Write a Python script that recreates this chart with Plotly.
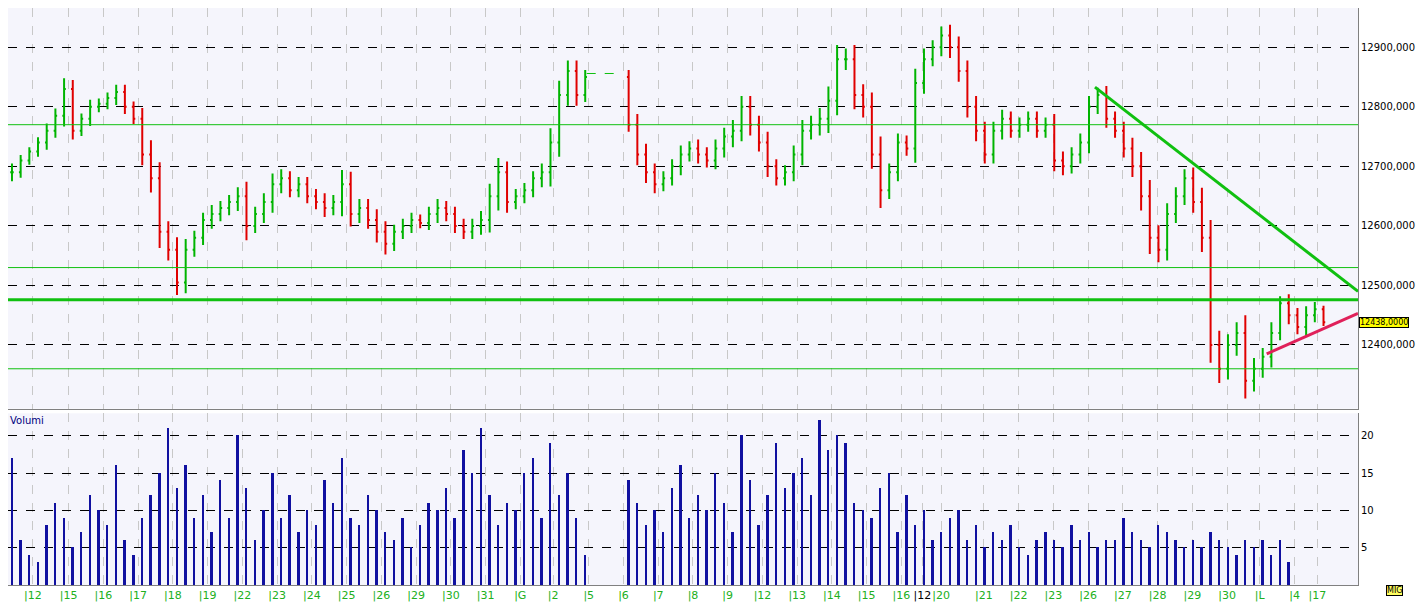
import plotly.graph_objects as go
from plotly.subplots import make_subplots

closes = [12690,12710,12725,12740,12760,12785,12830,12760,12780,12800,12805,12815,12825,12800,12780,12720,
12680,12590,12560,12505,12560,12580,12610,12620,12630,12640,12650,12600,12620,12640,12670,12680,
12660,12670,12650,12640,12630,12640,12670,12620,12630,12610,12590,12570,12590,12600,12610,12605,
12620,12630,12620,12600,12590,12600,12610,12650,12690,12640,12650,12660,12680,12690,12740,12820,
12860,12820,12850,None,None,None,None,12770,12720,12690,12670,12680,12700,12720,12730,12720,
12710,12730,12750,12760,12800,12770,12740,12700,12680,12690,12720,12760,12770,12780,12810,12880,
12880,12820,12800,12720,12660,12690,12740,12730,12840,12880,12900,12920,12900,12860,12800,12760,
12720,12760,12780,12760,12770,12780,12760,12770,12710,12700,12720,12740,12800,12820,12780,12760,
12730,12700,12650,12580,12560,12620,12650,12680,12640,12580,12400,12360,12400,12420,12340,12360,
12380,12420,12470,12450,12430,12450,12460,12438]
wick = [25,15,12,15,20,20,30,25,15,20,15,15,20,20,15,30,40,45,30,35,30,20,20,25,20,20,25,40,20,25,30,25,
20,20,20,20,25,20,40,35,25,25,30,30,20,20,20,15,20,25,20,20,20,20,25,35,40,30,20,20,20,25,40,40,
30,30,20,0,0,0,0,20,30,30,25,20,20,25,20,25,20,25,25,30,30,30,25,30,20,20,25,30,25,30,40,40,
30,40,30,40,50,25,25,20,40,30,20,25,30,30,30,30,25,25,25,20,20,20,20,20,30,25,20,25,30,20,25,20,
25,30,40,45,35,30,25,25,30,40,50,40,30,30,50,30,25,30,20,25,20,25,20,10]
volumes = [17,6,4,3,8,11,9,5,7,12,10,8,16,6,4,9,12,15,21,13,16,9,12,7,14,9,20,13,6,10,15,9,
12,7,10,8,14,11,17,9,8,12,10,7,6,9,5,8,11,10,13,9,18,15,21,12,8,11,10,15,17,9,19,12,
15,9,4,None,None,None,None,14,11,8,10,7,13,16,9,12,10,15,11,7,20,14,8,12,19,13,15,17,
12,22,18,20,19,11,10,9,13,15,7,12,8,10,6,7,9,10,6,8,5,7,6,8,5,4,6,7,6,5,8,6,
7,5,6,6,9,7,6,5,8,7,6,5,6,5,7,6,5,4,6,5,6,4,6,3]
tick_labels = ["12","15","16","17","18","19","22","23","24","25","26","29","30","31","G","2","5","6","7","8",
"9","12","13","14","15","16","12","20","21","22","23","26","27","28","29","30","L","4","17"]
tick_px = [22,58,93,128,163,198,233,268,303,338,373,408,443,478,513,546,582,617,652,687,
722,757,792,827,862,897,918,937,980,1015,1050,1085,1120,1155,1190,1225,1258,1293,1316]
price_ticks = [12400,12500,12600,12700,12800,12900]
vol_ticks = [5,10,15,20]
support_lines = [12770,12530,12360]
main_support = 12476
last_price = 12438

PX = 8.75
n = len(closes)
xs = [(i*PX+4)/PX for i in range(n)]
opens, highs, lows, cl = [], [], [], []
prev = closes[0]
for c, w in zip(closes, wick):
    if c is None:
        opens.append(None); highs.append(None); lows.append(None); cl.append(None); continue
    o = prev if prev is not None else c
    opens.append(o); cl.append(c)
    highs.append(max(o, c) + w*0.6); lows.append(min(o, c) - w*0.6)
    prev = c

GREEN = "#10c010"
fig = make_subplots(rows=2, cols=1, shared_xaxes=True, row_heights=[0.7, 0.3], vertical_spacing=0.008)
fig.add_trace(go.Ohlc(x=xs, open=opens, high=highs, low=lows, close=cl,
    increasing=dict(line=dict(color="#00b400", width=2)),
    decreasing=dict(line=dict(color="#e00000", width=2)),
    tickwidth=0.2, showlegend=False), row=1, col=1)
fig.add_trace(go.Bar(x=xs, y=volumes, marker=dict(color="#1010a0", line=dict(width=0)), width=0.22,
    showlegend=False), row=2, col=1)

xmax = 1360/PX
for s in support_lines:
    fig.add_shape(type="line", x0=0, x1=xmax, y0=s, y1=s, line=dict(color=GREEN, width=1), row=1, col=1)
fig.add_shape(type="line", x0=0, x1=xmax, y0=main_support, y1=main_support, line=dict(color=GREEN, width=3), row=1, col=1)
fig.add_shape(type="line", x0=1095/PX, x1=xmax, y0=12833, y1=12490, line=dict(color=GREEN, width=3), row=1, col=1)
fig.add_shape(type="line", x0=1268/PX, x1=xmax, y0=12385, y1=12453, line=dict(color="#e0205a", width=3), row=1, col=1)
fig.add_shape(type="line", x0=583/PX, x1=617/PX, y0=12856, y1=12856, line=dict(color=GREEN, width=1, dash="dash"), row=1, col=1)

fig.add_annotation(x=1, xref="paper", y=last_price, yref="y", text="12438,0000", showarrow=False,
    xanchor="left", xshift=1, bgcolor="#ffff00", bordercolor="#000", borderwidth=1, borderpad=0,
    font=dict(size=8, color="#000", family="DejaVu Sans"))
fig.add_annotation(x=0, xref="paper", y=1, yref="y2 domain", text="Volumi", showarrow=False,
    xanchor="left", yanchor="top", font=dict(size=10, color="#000080", family="DejaVu Sans"))
fig.add_annotation(x=1, xref="paper", y=0, yref="y2 domain", text="MIG", showarrow=False,
    xanchor="left", yanchor="top", xshift=28, bgcolor="#ffff60", bordercolor="#000", borderwidth=1, borderpad=0,
    font=dict(size=8, color="#000", family="DejaVu Sans"))

ticktext = []
for i, t in enumerate(tick_labels):
    col = "#000" if i == 26 else "#20b020"
    ticktext.append(f"<span style='color:{col}'>|{t}</span>")
tickvals = [p/PX + 0.35 for p in tick_px]

axcommon = dict(showgrid=True, gridcolor="#c8c8c8", griddash="dash", gridwidth=1, zeroline=False,
    range=[0, xmax], showline=True, linecolor="#808080", tickvals=tickvals)
fig.update_xaxes(**axcommon, rangeslider_visible=False, showticklabels=False, row=1, col=1)
fig.update_xaxes(**axcommon, ticktext=ticktext, ticks="", tickangle=0,
    tickfont=dict(size=11, family="DejaVu Sans"), row=2, col=1)
fig.update_yaxes(side="right", range=[12293, 12966], tickvals=price_ticks,
    ticktext=[f"{v}" + ",000" for v in price_ticks],
    gridcolor="#000", griddash="dash", gridwidth=1, showline=True, linecolor="#808080",
    tickfont=dict(size=10, family="DejaVu Sans", color="#000"), row=1, col=1)
fig.update_yaxes(side="right", range=[0, 23], tickvals=vol_ticks, gridcolor="#000", griddash="dash",
    showline=True, linecolor="#808080", zeroline=False,
    tickfont=dict(size=10, family="DejaVu Sans", color="#000"), row=2, col=1)

fig.update_layout(width=1408, height=595, margin=dict(l=0, r=58, t=0, b=18),
    plot_bgcolor="#f5f5fc", paper_bgcolor="#ffffff", bargap=0)
fig.write_html("out.html")
